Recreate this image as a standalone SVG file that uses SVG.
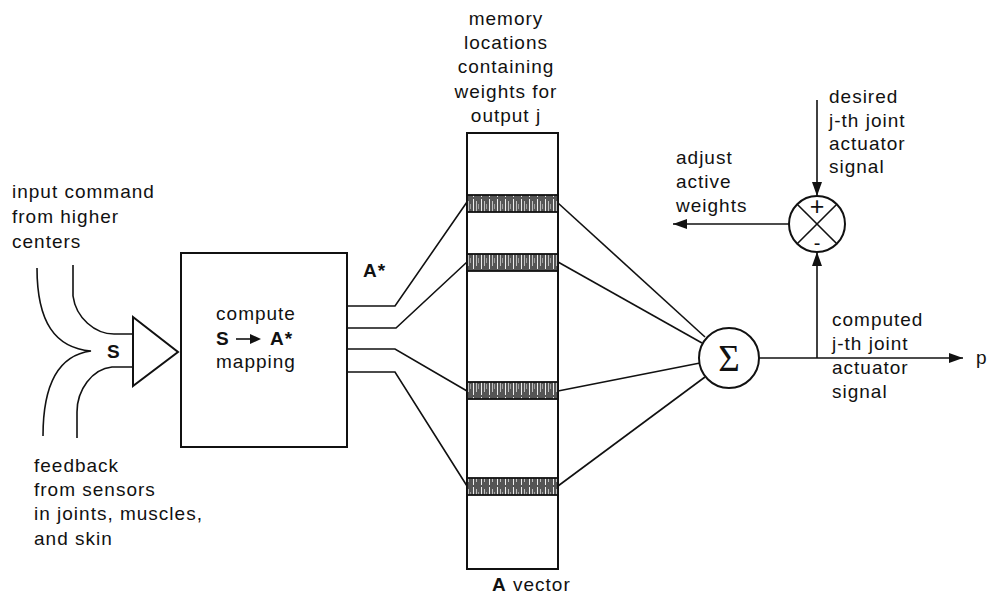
<svg xmlns="http://www.w3.org/2000/svg" width="992" height="602" viewBox="0 0 992 602">
<style>
  .t { font-family: "Liberation Sans", Arial, sans-serif; font-size: 19px; letter-spacing: 1px; fill: #111; }
  .b { font-weight: bold; }
  .ln { fill: none; stroke: #111; stroke-width: 1.6; }
  .bx { fill: #fff; stroke: #111; stroke-width: 2; }
  .band { fill: url(#hatch); stroke: #111; stroke-width: 1.8; }
</style>
<defs>
  <marker id="ah" viewBox="0 0 14 10" refX="14" refY="5" markerWidth="14" markerHeight="10" markerUnits="userSpaceOnUse" orient="auto">
    <path d="M0,0 L14,5 L0,10 z" fill="#111"/>
  </marker>
  <pattern id="hatch" width="8" height="18" patternUnits="userSpaceOnUse">
    <rect width="8" height="18" fill="#555"/>
    <line x1="1.5" y1="1" x2="1.5" y2="17" stroke="#eee" stroke-width="1"/>
    <line x1="4.5" y1="3" x2="4.5" y2="14" stroke="#ccc" stroke-width="0.9"/>
    <line x1="6.5" y1="6" x2="6.5" y2="11" stroke="#bbb" stroke-width="0.7"/>
  </pattern>
</defs>

<g id="connectors">
  <!-- input curves -->
  <path class="ln" d="M37,268 C37,322 55,348 91,351 C60,355 43,382 43,436"/>
  <path class="ln" d="M73,265 L73,296 C76,318 95,334 114,334 L133,334"/>
  <path class="ln" d="M133,367 L112,367 C92,369 77,390 77,412 L77,438"/>
  <!-- A* outputs to memory -->
  <polyline class="ln" points="347,306 395,306 467,202"/>
  <polyline class="ln" points="347,328 396,328 467,262"/>
  <polyline class="ln" points="347,349 395,349 467,391"/>
  <polyline class="ln" points="347,372 395,372 467,486"/>
  <!-- memory to sigma -->
  <line class="ln" x1="558" y1="203" x2="705" y2="337"/>
  <line class="ln" x1="558" y1="262" x2="702" y2="343"/>
  <line class="ln" x1="558" y1="391" x2="700" y2="363"/>
  <line class="ln" x1="558" y1="486" x2="705" y2="377"/>
  <!-- output -->
  <line class="ln" x1="759" y1="358" x2="963" y2="358" marker-end="url(#ah)"/>
  <!-- feedback to comparator -->
  <line class="ln" x1="817" y1="358" x2="817" y2="252" marker-end="url(#ah)"/>
  <!-- desired -->
  <line class="ln" x1="817" y1="100" x2="817" y2="196" marker-end="url(#ah)"/>
  <!-- adjust -->
  <line class="ln" x1="789" y1="224" x2="673" y2="224" marker-end="url(#ah)"/>
</g>

<g id="amplifier">
  <polygon class="bx" points="133,317 133,386 178,352" stroke-width="1.6"/>
  <text class="t b" x="107" y="358">S</text>
</g>

<g id="mapping">
  <rect class="bx" x="181" y="253" width="166" height="194"/>
  <text class="t" x="256" y="320" text-anchor="middle">compute</text>
  <text class="t b" x="216" y="345">S</text>
  <line x1="236" y1="339" x2="252" y2="339" stroke="#111" stroke-width="1.6"/>
  <path d="M250,334 L261,339 L250,344 z" fill="#111"/>
  <text class="t b" x="270" y="345">A*</text>
  <text class="t" x="256" y="368" text-anchor="middle">mapping</text>
  <text class="t b" x="363" y="277">A*</text>
</g>

<g id="memory">
  <rect class="bx" x="467" y="133" width="91" height="436"/>
  <rect class="band" x="467" y="195" width="91" height="17"/>
  <rect class="band" x="467" y="254" width="91" height="17"/>
  <rect class="band" x="467" y="382" width="91" height="17"/>
  <rect class="band" x="467" y="478" width="91" height="17"/>
  <text class="t" x="506" y="25" text-anchor="middle">memory</text>
  <text class="t" x="506" y="49" text-anchor="middle">locations</text>
  <text class="t" x="506" y="73" text-anchor="middle">containing</text>
  <text class="t" x="506" y="98" text-anchor="middle">weights for</text>
  <text class="t" x="506" y="122" text-anchor="middle">output j</text>
  <text class="t" x="492" y="591"><tspan class="b">A</tspan> vector</text>
</g>

<g id="sum">
  <circle cx="729" cy="358" r="30" class="bx"/>
  <text x="729" y="371" text-anchor="middle" style="font-family:'Liberation Serif','DejaVu Serif',serif;font-size:37px;fill:#111">Σ</text>
</g>

<g id="comparator">
  <circle cx="817" cy="224" r="28" class="bx" stroke-width="2.6"/>
  <line class="ln" x1="797.2" y1="204.2" x2="836.8" y2="243.8"/>
  <line class="ln" x1="836.8" y1="204.2" x2="797.2" y2="243.8"/>
  <text class="t" x="817" y="215" text-anchor="middle" style="font-size:25px;letter-spacing:0">+</text>
  <text class="t" x="817" y="250" text-anchor="middle" style="font-size:20px;letter-spacing:0">-</text>
</g>

<g id="labels">
  <text class="t" x="12" y="198">input command</text>
  <text class="t" x="12" y="223">from higher</text>
  <text class="t" x="12" y="248">centers</text>
  <text class="t" x="34" y="472">feedback</text>
  <text class="t" x="34" y="496">from sensors</text>
  <text class="t" x="34" y="520">in joints, muscles,</text>
  <text class="t" x="34" y="545">and skin</text>
  <text class="t" x="676" y="164">adjust</text>
  <text class="t" x="676" y="188">active</text>
  <text class="t" x="676" y="212">weights</text>
  <text class="t" x="829" y="103">desired</text>
  <text class="t" x="829" y="127">j-th joint</text>
  <text class="t" x="829" y="150">actuator</text>
  <text class="t" x="829" y="173">signal</text>
  <text class="t" x="832" y="326">computed</text>
  <text class="t" x="832" y="350">j-th joint</text>
  <text class="t" x="832" y="374">actuator</text>
  <text class="t" x="832" y="398">signal</text>
  <text class="t" x="976" y="364">p</text>
</g>
</svg>
